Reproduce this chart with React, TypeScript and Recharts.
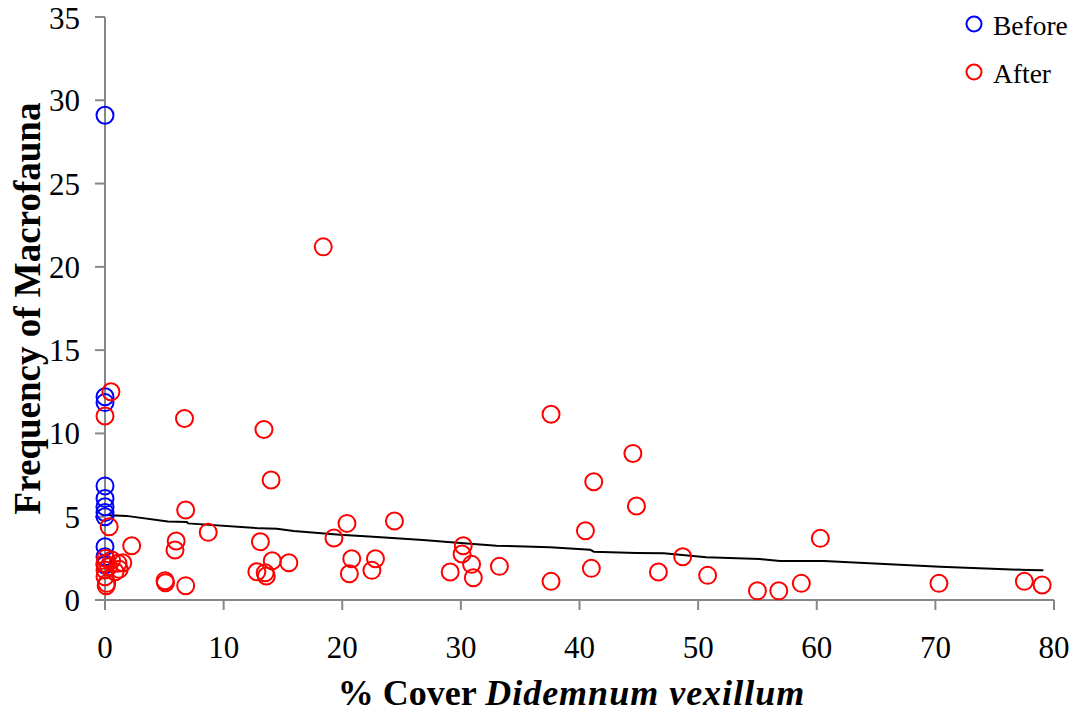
import React from 'react';
import { ScatterChart, Scatter, XAxis, YAxis } from 'recharts';

// % cover (x) and frequency of macrofauna (y)
const beforePoints: [number, number][] = [
  [0, 29.1], [0, 12.2], [0, 11.85], [0, 6.85], [0, 6.1], [0, 5.6], [0, 5.25], [0, 5.0],
  [0, 3.2], [0, 2.6], [0, 2.1],
];

const afterPoints: [number, number][] = [
  [0.5, 12.5], [0, 11.05], [6.7, 10.9], [13.4, 10.24], [14.0, 7.2], [6.8, 5.4], [0.35, 4.4],
  [8.7, 4.06], [2.25, 3.26], [6.0, 3.54], [5.9, 3.0], [13.1, 3.5], [14.1, 2.36], [12.8, 1.7],
  [13.5, 1.64], [13.6, 1.44], [5.06, 1.16], [5.1, 1.04], [6.8, 0.86], [1.5, 2.24], [1.2, 1.84],
  [0.1, 0.86], [15.5, 2.24], [18.4, 21.2], [20.4, 4.6], [19.3, 3.72], [20.8, 2.48], [20.6, 1.58],
  [24.4, 4.74], [22.8, 2.48], [22.5, 1.78], [30.2, 3.26], [30.1, 2.76], [30.9, 2.14], [31.05, 1.34],
  [29.1, 1.68], [33.25, 2.02], [37.6, 11.15], [37.6, 1.12], [44.5, 8.8], [41.2, 7.1], [44.8, 5.64],
  [40.5, 4.16], [41.0, 1.9], [46.65, 1.68], [48.7, 2.6], [50.8, 1.48], [55.0, 0.55], [56.8, 0.55],
  [58.7, 1.0], [60.3, 3.7], [70.3, 1.0], [77.5, 1.12], [79.0, 0.9],
  [0.05, 2.5], [0.56, 2.4], [0, 2.2], [1.1, 2.2], [0.3, 2.0], [0, 1.8], [0.85, 1.7], [0, 1.4], [0.15, 1.0],
];

const trendPoints: [number, number][] = [
  [0, 5.1], [1.8, 5.05], [5.3, 4.72], [6.9, 4.68], [7.0, 4.6], [13.1, 4.3], [14.5, 4.28], [15.9, 4.14],
  [19.8, 3.92], [22.6, 3.8], [26.8, 3.6], [29.7, 3.44], [33.0, 3.26], [37.5, 3.16], [40.9, 3.02],
  [41.2, 2.9], [44.8, 2.82], [47.1, 2.8], [50.7, 2.56], [55.2, 2.46], [56.9, 2.34], [60.6, 2.34],
  [70.4, 2.0], [77.7, 1.8], [79.1, 1.78],
];

const xTicks = [0, 10, 20, 30, 40, 50, 60, 70, 80];
const yTicks = [0, 5, 10, 15, 20, 25, 30, 35];
const seriesNames = ['Before', 'After'];
const xTitle = '% Cover ';
const xTitleItalic = 'Didemnum vexillum';
const yTitle = 'Frequency of Macrofauna';

const toRows = (pts: [number, number][]) => pts.map(([x, y]) => ({ x, y }));

const FONT = '"Liberation Serif", "Times New Roman", serif';
const AXIS = '#878787';

const ring = (color: string) => (props: any) => (
  <circle cx={props.cx} cy={props.cy} r={8.5} fill="none" stroke={color} strokeWidth={2} />
);

const XTitle = (props: any) => {
  const vb = props.viewBox;
  return (
    <text
      x={vb.x + vb.width / 2 - 8}
      y={vb.y + 105}
      textAnchor="middle"
      fontFamily={FONT}
      fontWeight="bold"
      fontSize={36}
      fill="#000"
    >
      <tspan>{xTitle}</tspan>
      <tspan fontStyle="italic" letterSpacing={1}>{xTitleItalic}</tspan>
    </text>
  );
};

const YTitle = (props: any) => {
  const vb = props.viewBox;
  const cx = 40;
  const cy = vb.y + vb.height / 2;
  return (
    <text
      x={cx}
      y={cy}
      transform={`rotate(-90, ${cx}, ${cy})`}
      textAnchor="middle"
      fontFamily={FONT}
      fontWeight="bold"
      fontSize={37}
      fill="#000"
    >
      {yTitle}
    </text>
  );
};

export default function App() {
  return (
    <div style={{ position: 'absolute', left: 0, top: 0, width: 1078, height: 715, background: '#fff' }}>
      <ScatterChart width={1078} height={715} margin={{ top: 17, right: 24, bottom: 0, left: 0 }}>
        <XAxis
          type="number"
          dataKey="x"
          domain={[0, 80]}
          ticks={xTicks}
          height={115}
          axisLine={{ stroke: AXIS, strokeWidth: 2 }}
          tickLine={{ stroke: AXIS, strokeWidth: 2 }}
          tickSize={10}
          tickMargin={26}
          tick={{ fill: '#000', fontSize: 31, fontFamily: FONT }}
          label={<XTitle />}
        />
        <YAxis
          type="number"
          dataKey="y"
          domain={[0, 35]}
          ticks={yTicks}
          width={105}
          axisLine={{ stroke: AXIS, strokeWidth: 2 }}
          tickLine={{ stroke: AXIS, strokeWidth: 2 }}
          tickSize={10}
          tickMargin={15}
          tick={{ fill: '#000', fontSize: 31, fontFamily: FONT }}
          label={<YTitle />}
        />
        <Scatter
          name="trend"
          data={toRows(trendPoints)}
          line={{ stroke: '#000', strokeWidth: 2 }}
          shape={() => <g />}
          isAnimationActive={false}
        />
        <Scatter name={seriesNames[0]} data={toRows(beforePoints)} shape={ring('#0000FF')} isAnimationActive={false} />
        <Scatter name={seriesNames[1]} data={toRows(afterPoints)} shape={ring('#FF0000')} isAnimationActive={false} />
      </ScatterChart>
      <svg
        width={130}
        height={100}
        style={{ position: 'absolute', left: 948, top: 0 }}
      >
        <circle cx={26} cy={24} r={7.5} fill="none" stroke="#0000FF" strokeWidth={2} />
        <text x={45} y={35} fontFamily={FONT} fontSize={27.5} fill="#000">{seriesNames[0]}</text>
        <circle cx={26} cy={72} r={7.5} fill="none" stroke="#FF0000" strokeWidth={2} />
        <text x={45} y={83} fontFamily={FONT} fontSize={27.5} fill="#000">{seriesNames[1]}</text>
      </svg>
    </div>
  );
}
